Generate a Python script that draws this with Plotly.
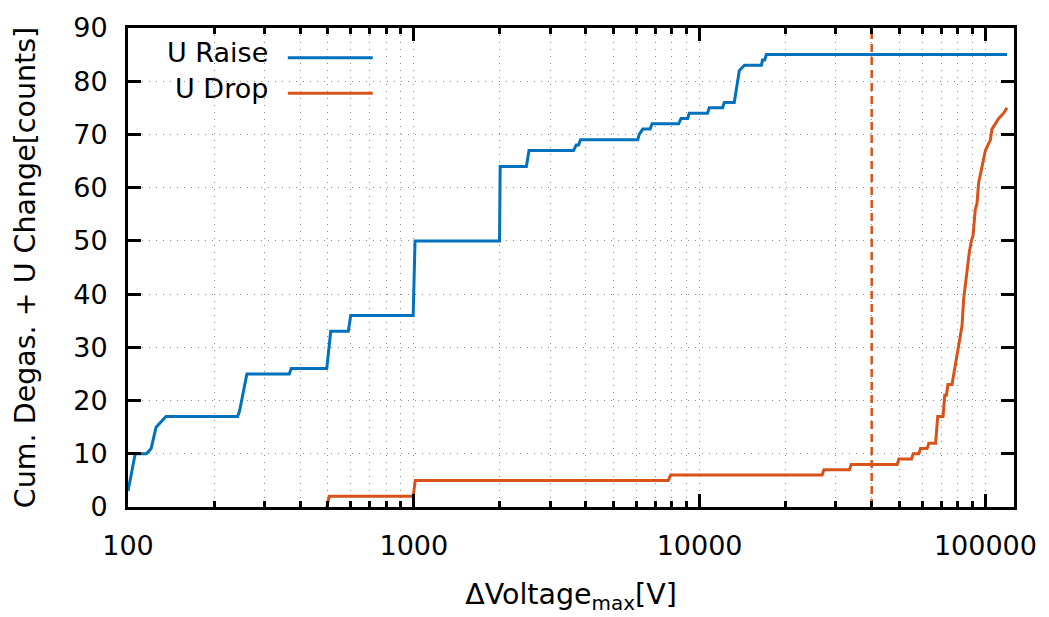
import plotly.graph_objects as go

# ---------------- data ----------------
raise_x = [100, 106, 116, 120.5, 125.4, 135.8, 241.8, 245.6, 260.6, 366.6, 372.5, 496, 512, 590, 601.6,
           995, 1010, 1995, 2005, 2477, 2530, 3622, 3700, 3772, 3830, 6075, 6150, 6325, 6710, 6820,
           8450, 8610, 9085, 9200, 10660, 10810, 12030, 12200, 13220, 13540, 13770, 14350, 16450,
           16600, 16900, 17120, 119000]
raise_y = [3, 10, 10, 11, 15, 17, 17, 18, 25, 25, 26, 26, 33, 33, 36,
           36, 50, 50, 64, 64, 67, 67, 68, 68, 69, 69, 70, 71, 71, 72,
           72, 73, 73, 74, 74, 75, 75, 76, 76, 80, 82, 83, 83,
           84, 84, 85, 85]

drop_x = [496, 506, 995, 1012, 7770, 7920, 26830, 27230, 33450, 33900, 49120, 49780, 55150, 55870,
          58480, 59290, 62520, 63390, 66930, 68100, 71070, 72070, 73000, 73960, 76390, 79700, 81800,
          82800, 83900, 86200, 87900, 89300, 90500, 92200, 93440, 94710, 97250, 100000, 104100,
          105400, 111300, 115850, 119000]
drop_y = [0, 2, 2, 5, 5, 6, 6, 7, 7, 8, 8, 9, 9, 10,
          10, 11, 11, 12, 12, 17, 17, 21, 21, 23, 23, 29, 32,
          34, 39, 45, 48, 50, 51, 56, 57, 61, 64, 67, 69,
          71, 73, 74, 75]

threshold_x = 40000
y_span = [0, 90]

series_names = ["U Raise", "U Drop"]
x_major = [100, 1000, 10000, 100000]
x_major_text = ["100", "1000", "10000", "100000"]
x_minor = [m * d for d in [100, 1000, 10000, 100000] for m in range(2, 10) if m * d < 126000]
y_ticks = list(range(0, 91, 10))

BLUE = "#0072BD"
ORANGE = "#D95319"
FONT = "DejaVu Sans"

fig = go.Figure()
fig.add_trace(go.Scatter(x=raise_x, y=raise_y, mode="lines", name=series_names[0],
                         line=dict(color=BLUE, width=3), showlegend=False))
fig.add_trace(go.Scatter(x=drop_x, y=drop_y, mode="lines", name=series_names[1],
                         line=dict(color=ORANGE, width=3), showlegend=False))
fig.add_trace(go.Scatter(x=[threshold_x, threshold_x], y=y_span, mode="lines",
                         line=dict(color=ORANGE, width=2.5, dash="8px,5px"), showlegend=False))

L, R, T, B = 128, 34, 22, 110
W, H = 1049, 617

axis_common = dict(showline=True, linecolor="black", linewidth=3, mirror="ticks",
                   ticks="inside", tickcolor="black", tickwidth=3, ticklen=13,
                   zeroline=False,
                   tickfont=dict(family=FONT, size=27, color="black"),
                   gridcolor="#8a8a8a", griddash="1px,6px", gridwidth=1)

fig.update_layout(
    width=W, height=H,
    margin=dict(l=L, r=R, t=T, b=B, pad=0),
    paper_bgcolor="white", plot_bgcolor="white",
    xaxis=dict(type="log", range=[2, 5.1], tickmode="array", tickvals=x_major,
               ticktext=x_major_text, showgrid=True,
               minor=dict(tickmode="array", tickvals=x_minor, ticks="inside", ticklen=6,
                          tickwidth=2.5, tickcolor="black", showgrid=True,
                          gridcolor="#8a8a8a", griddash="1px,6px", gridwidth=1),
               ticklabelstandoff=13,
               title=dict(text="ΔVoltage<sub>max</sub>[V]", font=dict(family=FONT, size=28.5, color="black"),
                          standoff=24),
               **axis_common),
    yaxis=dict(range=[0, 90], tickmode="array", tickvals=y_ticks, showgrid=True,
               ticklabelstandoff=12,
               title=dict(text="Cum. Degas. + U Change[counts]", font=dict(family=FONT, size=28.5, color="black"),
                          standoff=30),
               **axis_common),
)

# custom gnuplot-style legend (text right-aligned, sample to the right)
pw, ph = W - L - R, H - T - B
def px(xp):
    return (xp - L) / pw
def py(yp):
    return (H - B - yp) / ph

for name, color, ypix in [(series_names[0], BLUE, 52), (series_names[1], ORANGE, 88)]:
    fig.add_annotation(x=px(270), y=py(ypix - 5), xref="paper", yref="paper", text=name,
                       showarrow=False, xanchor="right", yanchor="middle",
                       font=dict(family=FONT, size=27, color="black"))
    fig.add_shape(type="line", xref="paper", yref="paper", x0=px(288), x1=px(373),
                  y0=py(ypix), y1=py(ypix), line=dict(color=color, width=3))

fig.write_html("out.html")
